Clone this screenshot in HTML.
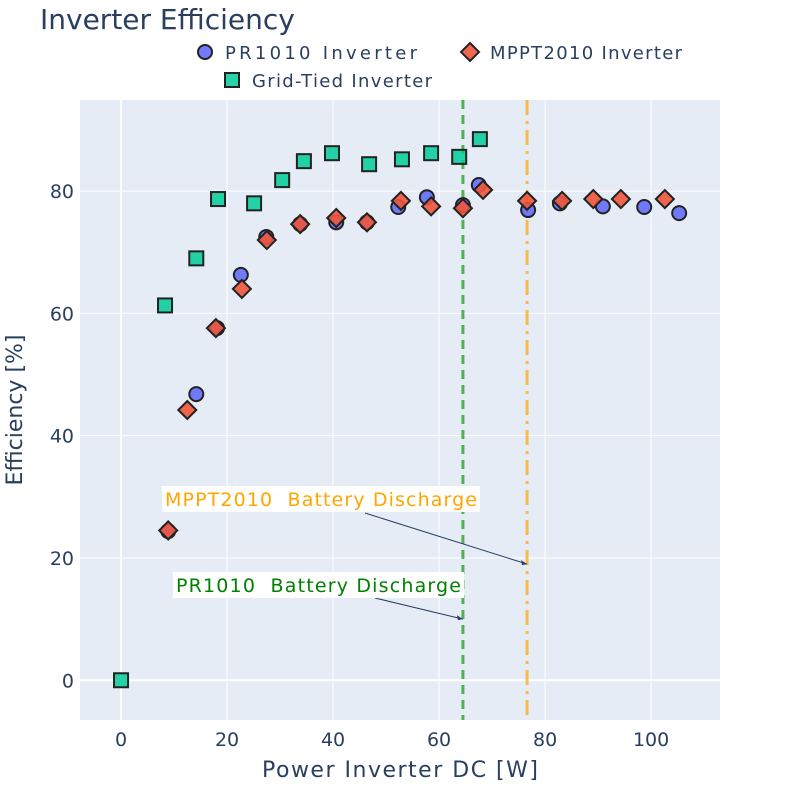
<!DOCTYPE html>
<html><head><meta charset="utf-8"><style>
body{margin:0;background:#fff;font-family:"Liberation Sans","DejaVu Sans",sans-serif;}
svg text{font-family:"DejaVu Sans","Liberation Sans",sans-serif;fill:#2a3f5f;white-space:pre;}
</style></head><body>
<svg id="chart" width="800" height="800" xmlns="http://www.w3.org/2000/svg">
<rect width="800" height="800" fill="#fff"/>
<rect x="80" y="100" width="640" height="620" fill="#e5ecf6"/>
<g id="grid"></g>
<g id="vlines"></g>
<g id="marks"></g>
<g id="ann"></g>
<text x="40" y="29" font-size="28">Inverter Efficiency</text>
<text x="400" y="777" font-size="22" text-anchor="middle" textLength="276">Power Inverter DC [W]</text>
<text transform="translate(22,410) rotate(-90)" font-size="22" text-anchor="middle">Efficiency [%]</text>
<g>
<g><circle cx="205" cy="52" r="7" fill="#636efa" fill-opacity="0.9" stroke="#222" stroke-width="2"/><text x="225" y="59" font-size="18" textLength="192">PR1010 Inverter</text></g>
<g><polygon points="470,43 479,52 470,61 461,52" fill="#ef553b" fill-opacity="0.9" stroke="#222" stroke-width="2"/><text x="490" y="59" font-size="18" textLength="192">MPPT2010 Inverter</text></g>
<g><rect x="225" y="73" width="14" height="14" fill="#00cc96" fill-opacity="0.85" stroke="#222" stroke-width="2"/><text x="252" y="87" font-size="18" textLength="180">Grid-Tied Inverter</text></g>
</g>
</svg>
<script>
const prX=[8.9,14.2,18.1,22.6,27.4,33.8,40.6,46.4,52.3,57.7,64.5,67.5,76.8,82.8,90.9,98.7,105.3];
const prY=[24.4,46.8,57.6,66.3,72.5,74.6,74.9,74.9,77.4,79.0,77.7,81.0,76.9,78.0,77.5,77.4,76.4];
const mpX=[8.9,12.5,17.9,22.8,27.5,33.8,40.6,46.4,52.8,58.5,64.5,68.3,76.6,83.2,89.1,94.3,102.6];
const mpY=[24.5,44.2,57.6,64.0,72.0,74.6,75.6,74.9,78.4,77.5,77.2,80.2,78.4,78.4,78.7,78.7,78.7];
const gtX=[0,8.3,14.2,18.3,25.1,30.4,34.5,39.8,46.8,53.0,58.5,63.8,67.7];
const gtY=[0,61.3,69.0,78.7,78.0,81.8,84.9,86.2,84.4,85.2,86.2,85.6,88.5];
const xTicks=[0,20,40,60,80,100];
const yTicks=[0,20,40,60,80];
const prDischarge=64.5, mpDischarge=76.6;
const NS="http://www.w3.org/2000/svg";
const X0=80,X1=720,Y0=720,Y1=100,xmin=-7.74,xmax=113,ymin=-6.5,ymax=94.9;
const sx=v=>X0+(v-xmin)/(xmax-xmin)*(X1-X0);
const sy=v=>Y0-(v-ymin)/(ymax-ymin)*(Y0-Y1);
function mk(t,a,p){const e=document.createElementNS(NS,t);for(const k in a)e.setAttribute(k,a[k]);p.appendChild(e);return e;}
const grid=document.getElementById('grid'),marks=document.getElementById('marks'),vl=document.getElementById('vlines'),ann=document.getElementById('ann');
xTicks.forEach(v=>{const l=mk('line',{x1:sx(v),x2:sx(v),y1:Y1,y2:Y0,stroke:'#fff','stroke-width':v===0?2:1},grid);


const t=mk('text',{x:sx(v),y:746,'font-size':19,'text-anchor':'middle'},grid);t.textContent=v;

});
yTicks.forEach(v=>{const l=mk('line',{x1:X0,x2:X1,y1:sy(v),y2:sy(v),stroke:'#fff','stroke-width':v===0?2:1},grid);


const t=mk('text',{x:74,y:sy(v)+7,'font-size':19,'text-anchor':'end'},grid);t.textContent=v;

});
const g1=mk('line',{x1:sx(prDischarge),x2:sx(prDischarge),y1:Y1,y2:Y0,stroke:'#2ca02c','stroke-opacity':0.8,'stroke-width':3,'stroke-dasharray':'9,6'},vl);


const g2=mk('line',{x1:sx(mpDischarge),x2:sx(mpDischarge),y1:Y1,y2:Y0,stroke:'#ffa500','stroke-opacity':0.7,'stroke-width':3,'stroke-dasharray':'15,6,3,6'},vl);


prX.forEach((x,i)=>{const c=mk('circle',{cx:sx(x),cy:sy(prY[i]),r:7,fill:'#636efa','fill-opacity':0.9,stroke:'#222','stroke-width':2},marks);

});
gtX.forEach((x,i)=>{const X=sx(x),Y=sy(gtY[i]);const r=mk('rect',{x:X-7,y:Y-7,width:14,height:14,fill:'#00cc96','fill-opacity':0.85,stroke:'#222','stroke-width':2},marks);

});
mpX.forEach((x,i)=>{const X=sx(x),Y=sy(mpY[i]);const p=mk('polygon',{points:`${X},${Y-9} ${X+9},${Y} ${X},${Y+9} ${X-9},${Y}`,fill:'#ef553b','fill-opacity':0.9,stroke:'#222','stroke-width':2},marks);

});
function annot(name,txt,color,bx,by,bw,tx,ty,ax,ay){
const g=mk('g',{},ann);


mk('line',{x1:tx,y1:ty,x2:ax,y2:ay,stroke:'#2a3f5f','stroke-width':1},g);
mk('polygon',{points:`${ax},${ay} ${ax-6},${ay-4} ${ax-5},${ay+1}`,fill:'#2a3f5f'},g);
mk('rect',{x:bx,y:by,width:bw,height:26,fill:'#fff'},g);
const t=mk('text',{x:bx+3,y:by+20,'font-size':19,textLength:bw-6,'xml:space':'preserve'},g);t.textContent=txt;t.style.fill=color;}
annot('mppt2010-annotation','MPPT2010  Battery Discharge','#ffa500',162,486,318,365,513,sx(mpDischarge),sy(19));
annot('pr1010-annotation','PR1010  Battery Discharge','#008000',173,572,291,375,598,sx(prDischarge),sy(10));
</script>
</body></html>
